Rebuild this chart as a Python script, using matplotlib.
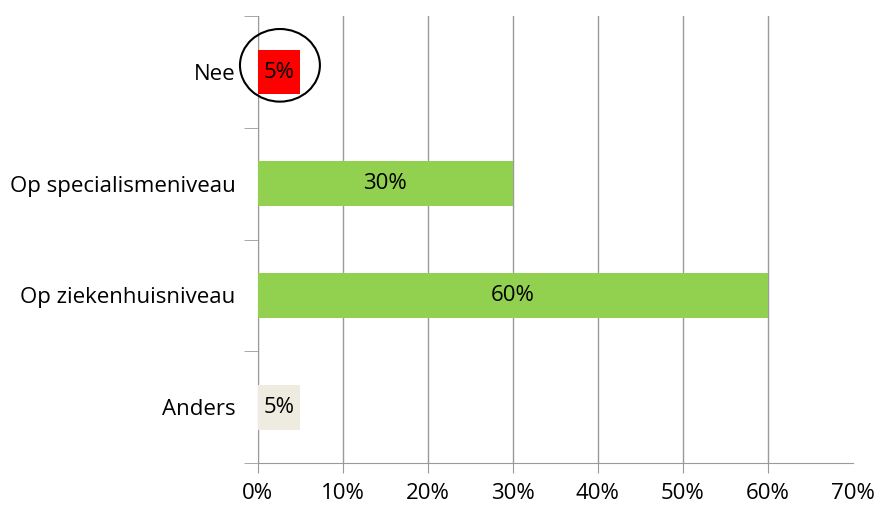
import numpy as np
import matplotlib.pyplot as plt
from matplotlib.patches import Ellipse
from matplotlib.ticker import FixedLocator, PercentFormatter

plt.rcParams["font.family"] = ["Open Sans", "DejaVu Sans"]

# data, top to bottom as shown
categories = ["Nee", "Op specialismeniveau", "Op ziekenhuisniveau", "Anders"]
percentages = [5, 30, 60, 5]
bar_colors = ["#ff0000", "#92d050", "#92d050", "#eeece1"]

fig = plt.figure(figsize=(8.77, 5.05), dpi=100)
ax = fig.add_axes([0.294, 0.083, 0.6786, 0.885])

y = np.arange(len(categories))[::-1]
ax.barh(y, percentages, height=0.4, color=bar_colors, zorder=3)

for yi, val in zip(y, percentages):
    ax.text(val / 2, yi, f"{val}%", ha="center", va="center",
            fontsize=16, color="black", zorder=4)

# highlight circle around the "Nee" bar
ax.add_patch(Ellipse((2.6, y[0] + 0.06), 9.4, 0.65, fill=False,
                     edgecolor="black", linewidth=1.5, zorder=5, clip_on=False))

ax.set_xlim(0, 70)
ax.set_ylim(-0.5, len(categories) - 0.5)
ax.set_xticks(np.arange(0, 71, 10))
ax.xaxis.set_major_formatter(PercentFormatter(decimals=0))
ax.set_yticks(y)
ax.set_yticklabels(categories)
ax.yaxis.set_minor_locator(FixedLocator(np.arange(-0.5, len(categories), 1.0)))

grid_color = "#9a9a9a"
ax.grid(axis="x", color=grid_color, linewidth=1.0, zorder=0)
# no gridline / tick at the last position (70%)
ax.xaxis.get_gridlines()[-1].set_visible(False)
ax.xaxis.get_major_ticks()[-1].tick1line.set_visible(False)

for side in ["top", "right"]:
    ax.spines[side].set_visible(False)
for side in ["left", "bottom"]:
    ax.spines[side].set_color(grid_color)

ax.tick_params(axis="y", which="major", length=0, pad=16, labelsize=16)
ax.tick_params(axis="y", which="minor", length=10, color=grid_color)
ax.tick_params(axis="x", length=7, color=grid_color, labelsize=16, pad=7)

fig.savefig("out.png", dpi=100)
